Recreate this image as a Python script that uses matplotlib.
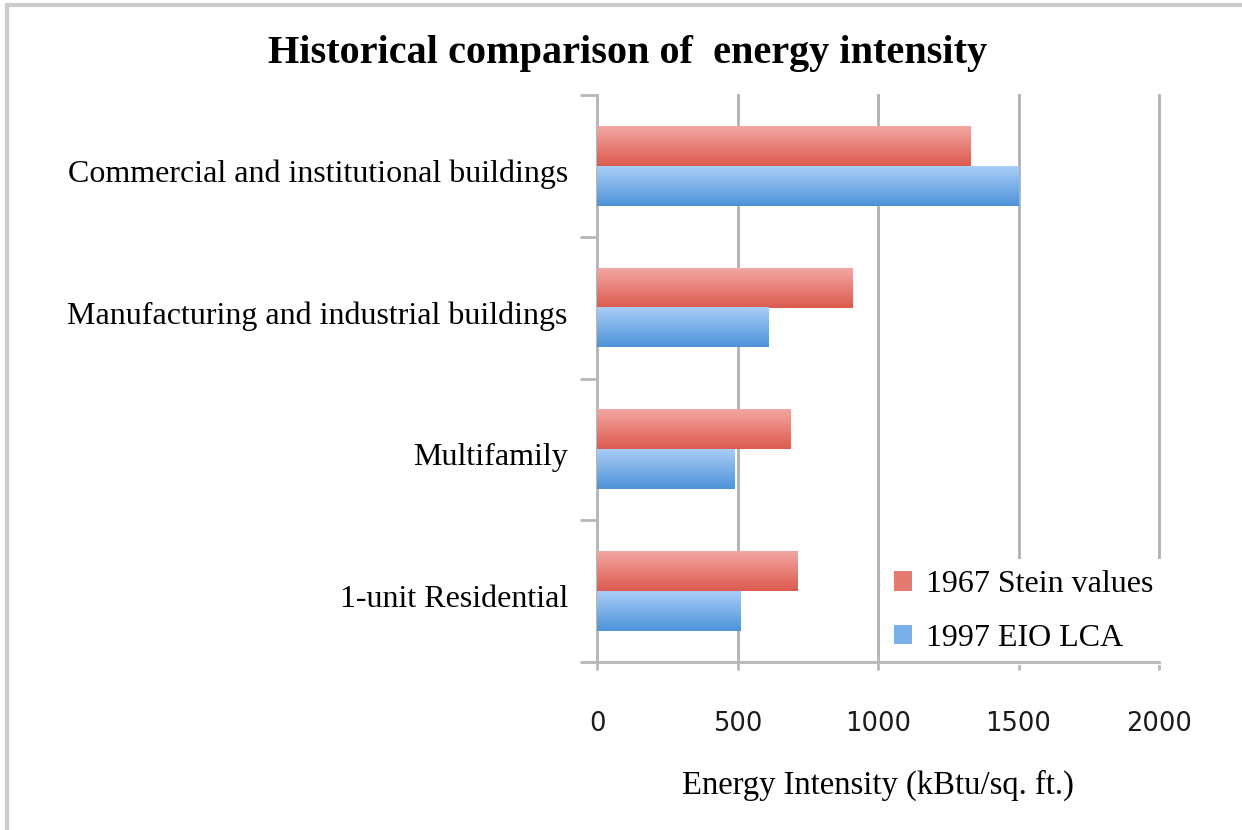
import matplotlib
matplotlib.use('Agg')
import matplotlib.pyplot as plt
import numpy as np
from matplotlib.colors import LinearSegmentedColormap
from matplotlib.patches import Rectangle
from matplotlib.transforms import ScaledTranslation

categories = ['1-unit Residential', 'Multifamily',
              'Manufacturing and industrial buildings',
              'Commercial and institutional buildings']
stein_1967 = [715, 690, 910, 1330]
eio_1997 = [510, 490, 610, 1500]
series_names = ['1967 Stein values', '1997 EIO LCA']
xticks = [0, 500, 1000, 1500, 2000]

serif = ['Liberation Serif', 'DejaVu Serif']

fig = plt.figure(figsize=(12.42, 8.3), dpi=100)
ax = fig.add_axes([0.4807, 0.2024, 0.4525, 0.6831])
ax.set_axisbelow(True)

y = np.arange(len(categories))
h = 0.28
red_cmap = LinearSegmentedColormap.from_list('r', ['#dd5a4f', '#f2a7a2'])
blue_cmap = LinearSegmentedColormap.from_list('b', ['#4e93d8', '#a9cdf7'])

bars_r = ax.barh(y + h / 2, stein_1967, height=h, color='#e57a70',
                 label=series_names[0], zorder=3)
bars_b = ax.barh(y - h / 2, eio_1997, height=h, color='#79b0ea',
                 label=series_names[1], zorder=3)

# vertical gradient on each bar, like the original chart
grad = np.linspace(0, 1, 64).reshape(-1, 1)
for bars, cm in ((bars_r, red_cmap), (bars_b, blue_cmap)):
    for b in bars:
        x0, y0 = b.get_x(), b.get_y()
        ax.imshow(grad, extent=[x0, x0 + b.get_width(), y0, y0 + b.get_height()],
                  origin='lower', aspect='auto', cmap=cm, zorder=4)

ax.set_xlim(0, 2000)
ax.set_ylim(-0.5, len(categories) - 0.5)

ax.set_xticks(xticks)
ax.set_xticklabels([str(t) for t in xticks], fontsize=18.5, family='DejaVu Sans')
ax.tick_params(axis='x', direction='inout', length=12, width=2, color='#b8b8b8',
               pad=29, labelcolor='#1a1a1a')

ax.set_yticks(y)
ax.set_yticklabels(categories, fontsize=23, family=serif)
ax.tick_params(axis='y', which='major', length=0, pad=21)
ax.set_yticks(np.arange(-0.5, len(categories), 1.0), minor=True)
ax.tick_params(axis='y', which='minor', direction='out', length=12, width=2,
               color='#b8b8b8')
shift = ScaledTranslation(0, -5 / 100, fig.dpi_scale_trans)
for lab in ax.get_yticklabels():
    lab.set_transform(lab.get_transform() + shift)

ax.grid(axis='x', color='#b0b0b0', linewidth=2)
for gl in ax.get_xgridlines():
    gl.set_clip_on(False)
for s in ('top', 'right'):
    ax.spines[s].set_visible(False)
for s in ('left', 'bottom'):
    ax.spines[s].set_color('#b8b8b8')
    ax.spines[s].set_linewidth(2)

ax.set_xlabel('Energy Intensity (kBtu/sq. ft.)', fontsize=23.5, family=serif,
              labelpad=24)

fig.suptitle('Historical comparison of  energy intensity', x=0.505, y=0.958,
             fontsize=29, fontweight='bold', family=serif)

leg = ax.legend(loc='lower right', bbox_to_anchor=(1.004, 0.002), frameon=True,
                prop={'family': serif, 'size': 23}, handlelength=0.55,
                handleheight=0.55, handletextpad=0.45, labelspacing=0.77,
                borderpad=0.25, borderaxespad=0, fancybox=False)
leg.get_frame().set_facecolor('white')
leg.get_frame().set_edgecolor('white')
leg.get_frame().set_linewidth(5)
leg.get_frame().set_alpha(1)
leg.set_zorder(2.4)

fig.patches.append(Rectangle((7 / 1242, -0.01), 1.1, (1 - 5.5 / 830) + 0.01,
                             transform=fig.transFigure, fill=False,
                             edgecolor='#cccccc', linewidth=3))

fig.savefig('out.png', dpi=100)
